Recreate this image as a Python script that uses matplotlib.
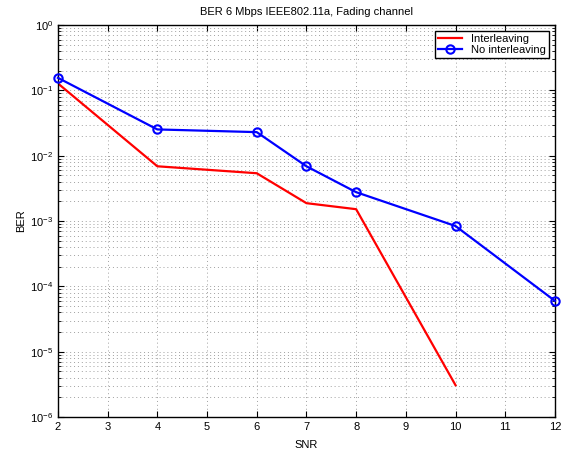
import matplotlib
matplotlib.use('Agg')
import matplotlib.pyplot as plt
from matplotlib.ticker import LogLocator, FixedLocator

plt.rcParams['font.family'] = ['Liberation Sans', 'DejaVu Sans']
plt.rcParams['mathtext.default'] = 'regular'

# values
snr_int = [2, 4, 6, 7, 8, 10]
ber_int = [0.128, 0.0069, 0.0054, 0.00188, 0.00152, 3.07e-6]
snr_noint = [2, 4, 6, 7, 8, 10, 12]
ber_noint = [0.156, 0.0253, 0.023, 0.0069, 0.00277, 8.4e-4, 6.0e-5]
x_ticks = [2, 3, 4, 5, 6, 7, 8, 9, 10, 11, 12]
y_ticks = [1e-6, 1e-5, 1e-4, 1e-3, 1e-2, 1e-1, 1]

fig = plt.figure(figsize=(5.68, 4.57), dpi=100)
ax = fig.add_axes([0.102, 0.0875, 0.875, 0.8575])

ax.semilogy(snr_int, ber_int, '-', color='#ff0000', linewidth=1.6, label='Interleaving')
ax.semilogy(snr_noint, ber_noint, '-o', color='#0000ff', linewidth=1.6,
            markersize=6, markerfacecolor='none', markeredgewidth=1.5,
            label='No interleaving', clip_on=False, zorder=5)

ax.set_xlim(2, 12)
ax.set_ylim(1e-6, 1)
ax.xaxis.set_major_locator(FixedLocator(x_ticks))
ax.yaxis.set_major_locator(FixedLocator(y_ticks))
ax.yaxis.set_minor_locator(LogLocator(base=10, subs=range(2, 10), numticks=20))

# matlab style dotted grid
grid_style = dict(linestyle=(0, (1, 3)), color='#a0a0a0', linewidth=0.7)
ax.grid(True, which='major', **grid_style)
ax.grid(True, which='minor', axis='y', **grid_style)

ax.tick_params(which='both', direction='in', top=True, right=True, labelsize=8)
ax.tick_params(which='major', length=4)
ax.tick_params(which='minor', length=2)
for s in ax.spines.values():
    s.set_linewidth(1.0)

ax.set_xlabel('SNR', fontsize=8, labelpad=6)
ax.set_ylabel('BER', fontsize=8, labelpad=3)
ax.set_title('BER 6 Mbps IEEE802.11a, Fading channel', fontsize=8, pad=7)

leg = ax.legend(loc='upper right', fontsize=8, fancybox=False, framealpha=1,
                edgecolor='black', handlelength=2.2, borderpad=0.3,
                labelspacing=0.1, borderaxespad=0.5)
leg.get_frame().set_linewidth(1.0)

fig.savefig('out.png', dpi=100)
